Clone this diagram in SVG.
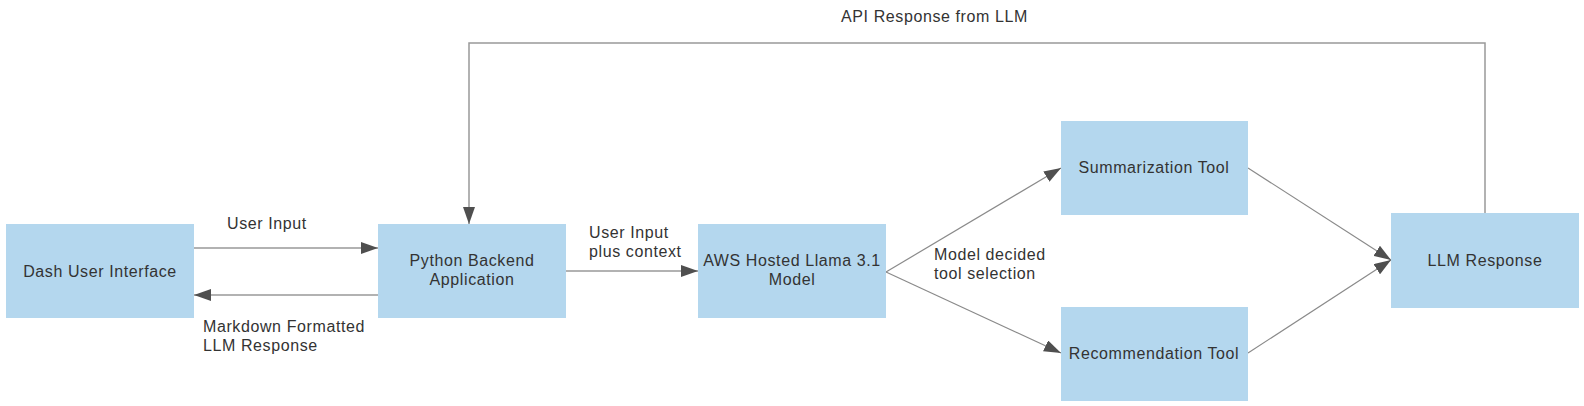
<svg xmlns="http://www.w3.org/2000/svg" width="1584" height="406" viewBox="0 0 1584 406">
<style>
.box{fill:#b4d7ee;}
text{font-family:"Liberation Sans",Arial,sans-serif;font-size:16px;fill:#333;letter-spacing:0.6px;}
.c{text-anchor:middle;}
.ln{fill:none;stroke:#8a8a8a;stroke-width:1.2;}
.ln2{fill:none;stroke:#999;stroke-width:1.5;}
</style>
<defs>
<marker id="ah" markerWidth="17" markerHeight="12" refX="17" refY="6" orient="auto" markerUnits="userSpaceOnUse">
<path d="M0,0 L17,6 L0,12 Z" fill="#4f4f4f"/>
</marker>
</defs>
<g id="connectors">
<path class="ln2" d="M194,248 L378,248" marker-end="url(#ah)"/>
<path class="ln2" d="M378,295 L194,295" marker-end="url(#ah)"/>
<path class="ln2" d="M566,271 L698,271" marker-end="url(#ah)"/>
<path class="ln" d="M886,272 L1061,168" marker-end="url(#ah)"/>
<path class="ln" d="M886,272 L1061,353" marker-end="url(#ah)"/>
<path class="ln" d="M1248,168 L1391,260" marker-end="url(#ah)"/>
<path class="ln" d="M1248,353 L1391,260" marker-end="url(#ah)"/>
<path class="ln2" d="M1485,213 L1485,43 L469,43 L469,224" marker-end="url(#ah)"/>
<text x="227" y="229">User Input</text>
<text x="203" y="332">Markdown Formatted</text>
<text x="203" y="351">LLM Response</text>
<text x="589" y="238">User Input</text>
<text x="589" y="257">plus context</text>
<text x="934" y="260">Model decided</text>
<text x="934" y="279">tool selection</text>
<text x="841" y="22">API Response from LLM</text>
</g>
<g id="dash">
<rect class="box" x="6" y="224" width="188" height="94"/>
<text class="c" x="100" y="277">Dash User Interface</text>
</g>
<g id="python">
<rect class="box" x="378" y="224" width="188" height="94"/>
<text class="c" x="472" y="266">Python Backend</text>
<text class="c" x="472" y="285">Application</text>
</g>
<g id="aws">
<rect class="box" x="698" y="224" width="188" height="94"/>
<text class="c" x="792" y="266">AWS Hosted Llama 3.1</text>
<text class="c" x="792" y="285">Model</text>
</g>
<g id="summarization">
<rect class="box" x="1061" y="121" width="187" height="94"/>
<text class="c" x="1154" y="173">Summarization Tool</text>
</g>
<g id="recommendation">
<rect class="box" x="1061" y="307" width="187" height="94"/>
<text class="c" x="1154" y="359">Recommendation Tool</text>
</g>
<g id="llm">
<rect class="box" x="1391" y="213" width="188" height="95"/>
<text class="c" x="1485" y="266">LLM Response</text>
</g>
</svg>
